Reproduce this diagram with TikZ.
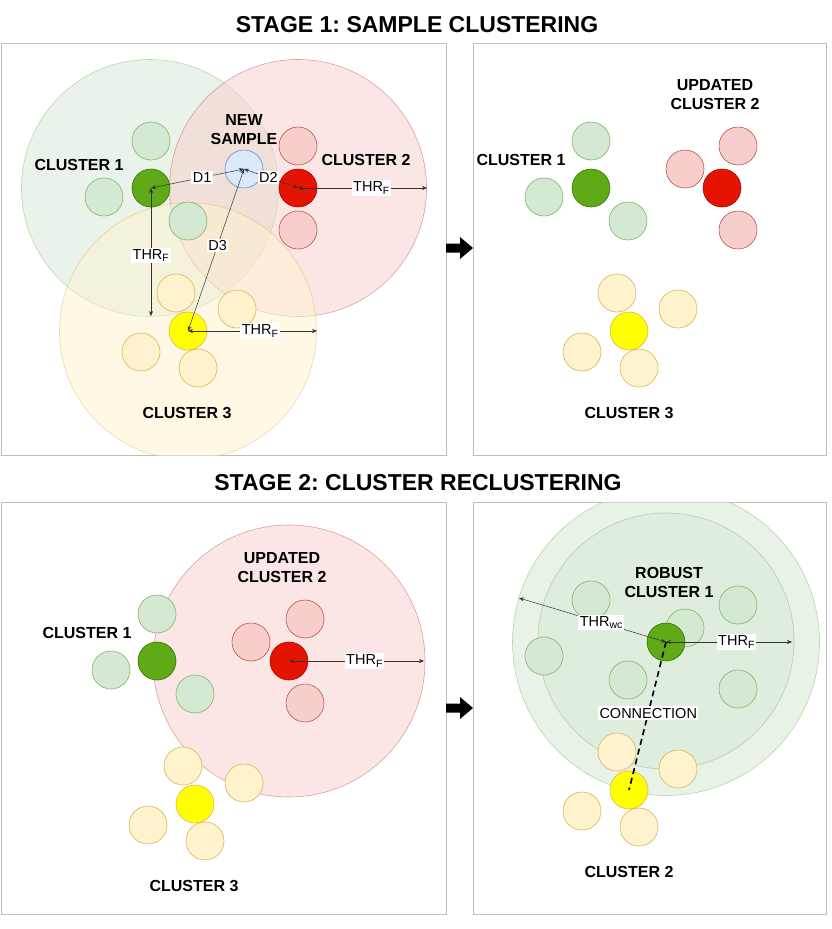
\documentclass[tikz,border=0pt]{standalone}
\usepackage{fontspec}
\setmainfont{Liberation Sans}
\usetikzlibrary{arrows.meta}
\frenchspacing
\definecolor{lgfill}{HTML}{D5E8D4}
\definecolor{lgline}{HTML}{82B366}
\definecolor{dgfill}{HTML}{60A917}
\definecolor{dgline}{HTML}{2D7600}
\definecolor{lrfill}{HTML}{F8CECC}
\definecolor{lrline}{HTML}{B85450}
\definecolor{drfill}{HTML}{E51400}
\definecolor{drline}{HTML}{B20000}
\definecolor{lyfill}{HTML}{FFF2CC}
\definecolor{lyline}{HTML}{D6B656}
\definecolor{dyfill}{HTML}{FFFF00}
\definecolor{nsfill}{HTML}{DAE8FC}
\definecolor{nsline}{HTML}{6C8EBF}
\definecolor{arrowgray}{HTML}{333333}
\newcommand{\thrlabel}[1]{THR\textsubscript{\fontsize{10.5}{11}\selectfont #1}}

\begin{document}
\begin{tikzpicture}[x=1pt, y=-1pt, >={Stealth[length=5pt, width=4pt]},
    dot/.style={circle, minimum size=38pt, inner sep=0pt, line width=0.6pt},
    lgreen/.style={dot, fill=lgfill, draw=lgline},
    dgreen/.style={dot, fill=dgfill, draw=dgline},
    lred/.style={dot, fill=lrfill, draw=lrline},
    dred/.style={dot, fill=drfill, draw=drline},
    lyellow/.style={dot, fill=lyfill, draw=lyline},
    dyellow/.style={dot, fill=dyfill, draw=lyline},
    newpt/.style={dot, fill=nsfill, draw=nsline},
    bigc/.style={line width=0.6pt, fill opacity=0.5, draw opacity=0.5},
    panel/.style={draw=black!25, line width=1pt},
    title/.style={font=\fontsize{23}{27}\selectfont\bfseries},
    clabel/.style={font=\fontsize{16}{19}\selectfont\bfseries, align=center},
    thr/.style={<->, draw=arrowgray, line width=0.5pt},
    lbl/.style={fill=white, inner sep=1.5pt, text=black,
      font=\fontsize{14.5}{16}\selectfont}]
  \useasboundingbox (0,0) rectangle (831,929);

  \node[title] (t1) at (417,25) {STAGE 1: SAMPLE CLUSTERING};
  \node[title] (t2) at (418,483) {STAGE 2: CLUSTER RECLUSTERING};

  % panels
  \draw[panel] (1,43) rectangle (446,455);
  \draw[panel] (473,43) rectangle (826,455);
  \draw[panel] (1,502) rectangle (446,914);
  \draw[panel] (473,502) rectangle (826,914);

  % block arrows between the panels
  \foreach \y in {248,708}
    \fill (446,\y-4.5) -- (460,\y-4.5) -- (460,\y-11) -- (473,\y)
      -- (460,\y+11) -- (460,\y+4.5) -- (446,\y+4.5) -- cycle;

  % ---- stage 1, before ----
  \begin{scope}
    \clip (1,43) rectangle (446,455);
    \draw[bigc, fill=lgfill, draw=lgline] (150,188) circle[radius=128.5pt];
    \draw[bigc, fill=lrfill, draw=lrline] (298,188) circle[radius=128.5pt];
    \draw[bigc, fill=lyfill, draw=lyline] (188,331) circle[radius=128.5pt];
  \end{scope}
  \foreach \x/\y/\n in {151/141/a, 104/197/b, 188/221/c}
    \node[lgreen] (g\n) at (\x,\y) {};
  \node[dgreen] (g) at (151,188) {};
  \foreach \x/\y/\n in {298/146/a, 298/230/b}
    \node[lred] (r\n) at (\x,\y) {};
  \node[dred] (r) at (298,188) {};
  \foreach \x/\y/\n in {176/293/a, 237/309/b, 141/352/c, 198/368/d}
    \node[lyellow] (y\n) at (\x,\y) {};
  \node[dyellow] (y) at (188,331) {};
  \node[newpt] (ns) at (244,169) {};

  \node[clabel] (lg) at (79,165) {CLUSTER 1};
  \node[clabel] (lns) at (244,130) {NEW\\SAMPLE};
  \node[clabel] (lr) at (366,160) {CLUSTER 2};
  \node[clabel] (ly) at (187,413) {CLUSTER 3};

  \coordinate (gthr) at (151,316);
  \coordinate (rthr) at (427,188);
  \coordinate (ythr) at (317,331);
  \draw[thr] (ns.center) -- node[lbl, pos=.45] {D1} (g.center);
  \draw[thr] (ns.center) -- node[lbl, pos=.45] {D2} (r.center);
  \draw[thr] (ns.center) -- node[lbl, pos=.47] {D3} (y.center);
  \draw[thr] (g.center) -- node[lbl, pos=.53] {\thrlabel{F}} (gthr);
  \draw[thr] (r.center) -- node[lbl, pos=.57] {\thrlabel{F}} (rthr);
  \draw[thr] (y.center) -- node[lbl, pos=.56] {\thrlabel{F}} (ythr);

  % ---- stage 1, after ----
  \foreach \x/\y/\n in {591/141/a, 544/197/b, 628/221/c}
    \node[lgreen] (ug\n) at (\x,\y) {};
  \node[dgreen] (ug) at (591,188) {};
  \foreach \x/\y/\n in {738/146/a, 685/169/b, 738/230/c}
    \node[lred] (ur\n) at (\x,\y) {};
  \node[dred] (ur) at (722,188) {};
  \foreach \x/\y/\n in {617/293/a, 678/309/b, 582/352/c, 639/368/d}
    \node[lyellow] (uy\n) at (\x,\y) {};
  \node[dyellow] (uy) at (629,331) {};

  \node[clabel] (lug) at (521,160) {CLUSTER 1};
  \node[clabel] (lur) at (715,95) {UPDATED\\CLUSTER 2};
  \node[clabel] (luy) at (629,413) {CLUSTER 3};

  % ---- stage 2, before ----
  \draw[bigc, fill=lrfill, draw=lrline] (289,661) circle[radius=136pt];
  \foreach \x/\y/\n in {157/614/a, 111/670/b, 195/694/c}
    \node[lgreen] (sg\n) at (\x,\y) {};
  \node[dgreen] (sg) at (157,661) {};
  \foreach \x/\y/\n in {305/619/a, 251/642/b, 305/703/c}
    \node[lred] (sr\n) at (\x,\y) {};
  \node[dred] (sr) at (289,661) {};
  \foreach \x/\y/\n in {183/766/a, 244/783/b, 148/825/c, 205/841/d}
    \node[lyellow] (sy\n) at (\x,\y) {};
  \node[dyellow] (sy) at (195,804) {};

  \node[clabel] (lsg) at (87,633) {CLUSTER 1};
  \node[clabel] (lsr) at (282,568) {UPDATED\\CLUSTER 2};
  \node[clabel] (lsy) at (194,886) {CLUSTER 3};

  \coordinate (srthr) at (424,661);
  \draw[thr] (sr.center) -- node[lbl, pos=.56] {\thrlabel{F}} (srthr);

  % ---- stage 2, after ----
  \begin{scope}
    \clip (473,502) rectangle (826,914);
    \draw[bigc, fill=lgfill, draw=lgline, fill opacity=0.55] (666,642) circle[radius=153.5pt];
    \draw[bigc, fill=lgfill, draw=lgline] (666,641) circle[radius=128pt];
  \end{scope}
  \foreach \x/\y/\n in {591/600/a, 685/628/b, 544/656/c, 628/680/d, 738/605/e, 738/689/f}
    \node[lgreen] (wg\n) at (\x,\y) {};
  \node[dgreen] (wg) at (666,642) {};
  \foreach \x/\y/\n in {617/752/a, 678/769/b, 582/811/c, 639/827/d}
    \node[lyellow] (wy\n) at (\x,\y) {};
  \node[dyellow] (wy) at (629,790) {};

  \node[clabel] (lwg) at (669,582) {ROBUST\\CLUSTER 1};
  \node[clabel] (lwy) at (629,872) {CLUSTER 2};

  \coordinate (wcthr) at (519,598);
  \coordinate (wgthr) at (792,642);
  \draw[thr] (wg.center) -- node[lbl, pos=.44] {\thrlabel{wc}} (wcthr);
  \draw[thr] (wg.center) -- node[lbl, pos=.56] {\thrlabel{F}} (wgthr);
  \draw[line width=1.6pt, dash pattern=on 6pt off 4pt] (wg.center)
    -- node[lbl, pos=.48] {CONNECTION} (wy.center);
\end{tikzpicture}
\end{document}
